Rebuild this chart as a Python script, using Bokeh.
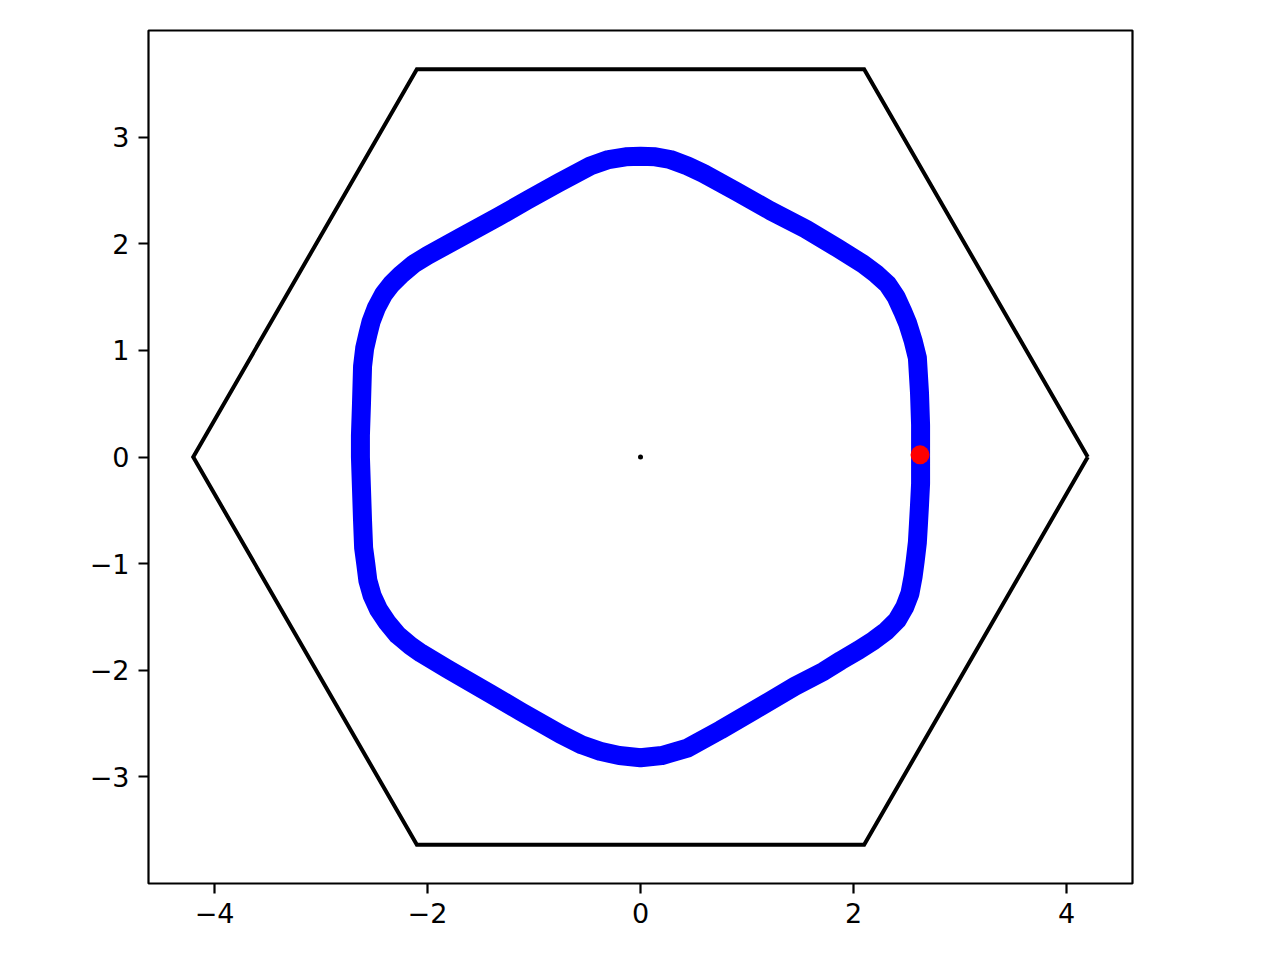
from bokeh.plotting import figure
from bokeh.models import Range1d, FixedTicker
from bokeh.embed import file_html
from bokeh.resources import INLINE

# Outer hexagon (closed)
hex_x = [4.2, 2.1, -2.1, -4.2, -2.1, 2.1, 4.2]
hex_y = [0.0, 3.637, 3.637, 0.0, -3.637, -3.637, 0.0]

# Blue rounded ring
ring_x = [2.63, 2.63, 2.62, 2.60, 2.56, 2.51, 2.46, 2.40, 2.32, 2.21, 2.09, 1.85, 1.55,
          1.22, 0.90, 0.59, 0.44, 0.28, 0.14, 0.00,
          -0.14, -0.30, -0.47, -0.77, -1.06, -1.34, -1.69, -2.00, -2.13, -2.25, -2.34,
          -2.41, -2.48, -2.53, -2.56, -2.59, -2.61, -2.62, -2.63, -2.63,
          -2.62, -2.61, -2.60, -2.58, -2.56, -2.52, -2.46, -2.38, -2.28, -2.16, -2.06, -1.81,
          -1.41, -1.12, -0.75, -0.55, -0.38, -0.20, 0.00,
          0.20, 0.44, 0.75, 1.06, 1.45, 1.72, 1.88, 2.05, 2.19, 2.31, 2.41, 2.48, 2.53,
          2.56, 2.58, 2.60, 2.61, 2.62, 2.63, 2.63]
ring_y = [0.00, 0.30, 0.60, 0.93, 1.09, 1.25, 1.37, 1.50, 1.62, 1.72, 1.81, 1.96, 2.14,
          2.31, 2.49, 2.66, 2.73, 2.79, 2.815, 2.82,
          2.815, 2.79, 2.73, 2.57, 2.41, 2.25, 2.06, 1.89, 1.81, 1.71, 1.62,
          1.53, 1.40, 1.27, 1.15, 1.02, 0.85, 0.50, 0.20, 0.00,
          -0.30, -0.60, -0.85, -1.00, -1.16, -1.30, -1.43, -1.55, -1.67, -1.77, -1.84, -1.99,
          -2.22, -2.39, -2.60, -2.70, -2.76, -2.80, -2.82,
          -2.80, -2.73, -2.56, -2.38, -2.15, -2.01, -1.91, -1.81, -1.72, -1.63, -1.53, -1.41, -1.28,
          -1.12, -0.97, -0.80, -0.63, -0.45, -0.25, 0.00]

probe_x = [2.625]
probe_y = [0.02]
center_x = [0.0]
center_y = [0.0]

x_ticks = [-4, -2, 0, 2, 4]
y_ticks = [-3, -2, -1, 0, 1, 2, 3]

p = figure(output_backend="svg", toolbar_location=None,
           frame_width=984, frame_height=853,
           x_range=Range1d(-4.62, 4.62), y_range=Range1d(-4.0, 4.0))
p.min_border_left = 148
p.min_border_right = 132
p.min_border_top = 30
p.min_border_bottom = 69
p.background_fill_color = "white"
p.border_fill_color = "white"
p.grid.visible = False
p.outline_line_color = "black"
p.outline_line_width = 2.2

for ax, ticks in ((p.xaxis, x_ticks), (p.yaxis, y_ticks)):
    ax.ticker = FixedTicker(ticks=ticks)
    ax.major_label_overrides = {t: (str(t).replace("-", "\u2212")) for t in ticks}
    ax.axis_line_color = None
    ax.major_tick_line_color = "black"
    ax.major_tick_line_width = 2.2
    ax.major_tick_out = 10
    ax.major_tick_in = 0
    ax.minor_tick_line_color = None
    ax.major_label_text_font = "DejaVu Sans"
    ax.major_label_text_font_size = "27px"
    ax.major_label_text_color = "black"
    ax.major_label_standoff = 9

p.line(hex_x, hex_y, line_color="black", line_width=4, line_join="miter")
p.line(ring_x, ring_y, line_color="#0000ff", line_width=19, line_join="round", line_cap="round")
p.scatter(probe_x, probe_y, size=19, fill_color="#ff0000", line_color=None)
p.scatter(center_x, center_y, size=5, fill_color="black", line_color=None)

open("out.html", "w").write(file_html(p, INLINE))
